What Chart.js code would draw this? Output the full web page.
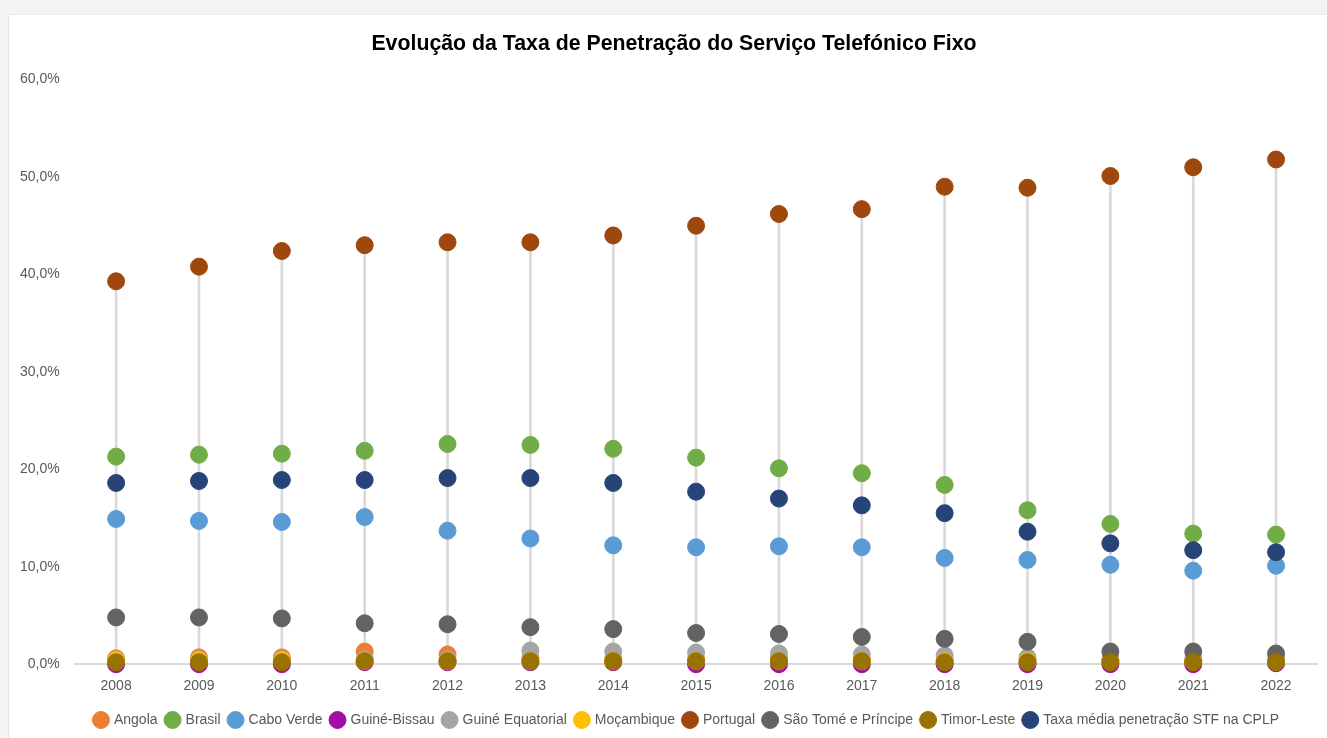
<!DOCTYPE html>
<html>
<head>
<meta charset="utf-8">
<script src="https://cdn.jsdelivr.net/npm/chart.js@4/dist/chart.umd.min.js"></script>
<style>
  html, body { margin: 0; padding: 0; background: #f3f3f3; width: 1327px; height: 738px; overflow: hidden; }
  #wrap { position: absolute; left: 8px; top: 14px; width: 1319px; height: 724px; background: #ffffff; border-left: 1px solid #e6e6e6; border-top: 1px solid #ececec; box-sizing: border-box; }
  canvas { display: block; }
</style>
</head>
<body>
<div id="wrap"><canvas id="c" width="1318" height="723"></canvas></div>
<script>
const years = ['2008','2009','2010','2011','2012','2013','2014','2015','2016','2017','2018','2019','2020','2021','2022'];

const angola          = [0.6, 0.7, 0.7, 1.3, 1.0, 0.6, 0.5, 0.5, 0.6, 0.5, 0.4, 0.4, 0.4, 0.4, 0.4];
const brasil          = [21.3, 21.5, 21.6, 21.9, 22.6, 22.5, 22.1, 21.2, 20.1, 19.6, 18.4, 15.8, 14.4, 13.4, 13.3];
const caboVerde       = [14.9, 14.7, 14.6, 15.1, 13.7, 12.9, 12.2, 12.0, 12.1, 12.0, 10.9, 10.7, 10.2, 9.6, 10.1];
const guineBissau     = [0.0, 0.0, 0.0, 0.2, 0.2, 0.2, 0.2, 0.0, 0.0, 0.0, 0.0, 0.0, 0.0, 0.0, 0.1];
const guineEquatorial = [0.5, 0.5, 0.5, 0.5, 0.5, 1.4, 1.3, 1.2, 1.1, 1.0, 0.9, 0.7, 0.5, 0.5, 0.4];
const mocambique      = [0.4, 0.4, 0.4, 0.3, 0.3, 0.3, 0.3, 0.3, 0.3, 0.3, 0.3, 0.3, 0.3, 0.3, 0.3];
const portugal        = [39.3, 40.8, 42.4, 43.0, 43.3, 43.3, 44.0, 45.0, 46.2, 46.7, 49.0, 48.9, 50.1, 51.0, 51.8];
const saoTome         = [4.8, 4.8, 4.7, 4.2, 4.1, 3.8, 3.6, 3.2, 3.1, 2.8, 2.6, 2.3, 1.3, 1.3, 1.1];
const timorLeste      = [0.2, 0.2, 0.2, 0.3, 0.3, 0.3, 0.3, 0.3, 0.3, 0.3, 0.2, 0.2, 0.2, 0.2, 0.2];
const taxaMedia       = [18.6, 18.8, 18.9, 18.9, 19.1, 19.1, 18.6, 17.7, 17.0, 16.3, 15.5, 13.6, 12.4, 11.7, 11.5];

const yTicks = [0, 10, 20, 30, 40, 50, 60];

const series = [
  ['Angola', angola, '#ED7D31'],
  ['Brasil', brasil, '#70AD47'],
  ['Cabo Verde', caboVerde, '#5B9BD5'],
  ['Guiné-Bissau', guineBissau, '#A10FA8'],
  ['Guiné Equatorial', guineEquatorial, '#A5A5A5'],
  ['Moçambique', mocambique, '#FFC000'],
  ['Portugal', portugal, '#9E480E'],
  ['São Tomé e Príncipe', saoTome, '#636363'],
  ['Timor-Leste', timorLeste, '#997300'],
  ['Taxa média penetração STF na CPLP', taxaMedia, '#264478']
];

const ranges = years.map((_, i) => {
  const vals = series.map(s => s[1][i]);
  return [Math.min(...vals), Math.max(...vals)];
});

const datasets = series.map((s, i) => ({
  type: 'line',
  label: s[0],
  data: s[1],
  showLine: false,
  pointRadius: 8.5,
  pointHoverRadius: 8.5,
  pointBackgroundColor: s[2],
  pointBorderColor: s[2],
  pointBorderWidth: 1,
  backgroundColor: s[2],
  borderColor: s[2],
  clip: false,
  order: 20 - i
}));

datasets.push({
  type: 'bar',
  label: 'range',
  data: ranges,
  backgroundColor: '#d9d9d9',
  borderWidth: 0,
  barThickness: 2,
  order: 100
});

const tickFont = { family: "'Liberation Sans', Arial, sans-serif", size: 14 };

const nudge = {
  id: 'nudge',
  afterLayout(chart) {
    const lg = chart.legend;
    if (lg) { lg.left += 21; lg.right += 21; lg.top += 3; lg.bottom += 3; }
    const tb = chart.titleBlock;
    if (tb) { tb.left += 8; tb.right += 8; }
  }
};

new Chart(document.getElementById('c'), {
  data: { labels: years, datasets: datasets },
  plugins: [nudge],
  options: {
    responsive: false,
    animation: false,
    layout: { padding: { left: 4, right: 8, top: 8, bottom: 4 } },
    plugins: {
      title: {
        display: true,
        text: 'Evolução da Taxa de Penetração do Serviço Telefónico Fixo',
        color: '#000000',
        font: { family: "'Liberation Sans', Arial, sans-serif", size: 21.3, weight: 'bold' },
        padding: { top: 8, bottom: 23 }
      },
      legend: {
        position: 'bottom',
        labels: {
          usePointStyle: true,
          pointStyle: 'circle',
          boxWidth: 12,
          boxHeight: 12,
          padding: 9,
          color: '#595959',
          font: { family: "'Liberation Sans', Arial, sans-serif", size: 14 },
          filter: (item) => item.datasetIndex < series.length,
          sort: (a, b) => a.datasetIndex - b.datasetIndex
        }
      },
      tooltip: { enabled: false }
    },
    scales: {
      x: {
        type: 'category',
        offset: true,
        grid: { display: false },
        border: { display: true, color: '#d9d9d9', width: 2 },
        ticks: { color: '#595959', font: tickFont, padding: 6 }
      },
      y: {
        min: 0,
        max: 60,
        grid: { display: false },
        border: { display: false },
        afterBuildTicks: (axis) => { axis.ticks = yTicks.map(v => ({ value: v })); },
        ticks: {
          color: '#595959',
          font: tickFont,
          padding: 7,
          callback: (v) => v.toFixed(1).replace('.', ',') + '%'
        }
      }
    }
  }
});
</script>
</body>
</html>
